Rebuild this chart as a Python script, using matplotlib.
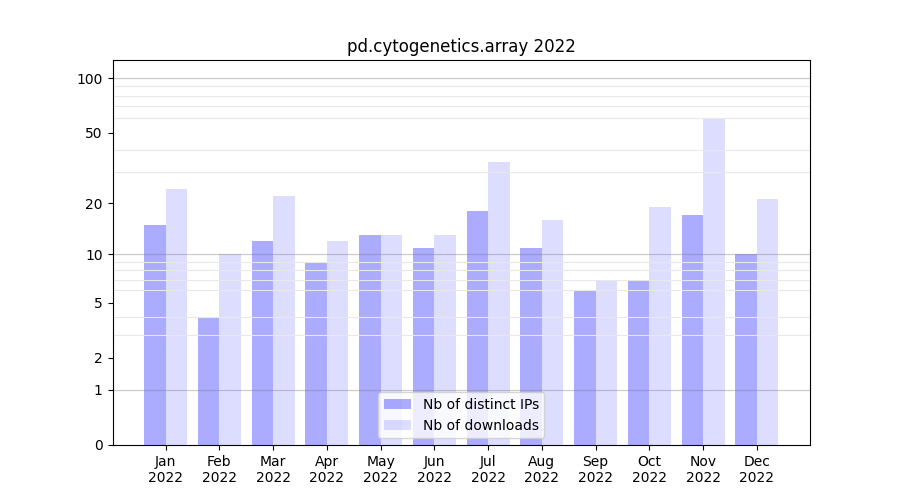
import numpy as np
import matplotlib
matplotlib.use('Agg')
import matplotlib.pyplot as plt
from matplotlib.ticker import FixedLocator

months = ['Jan', 'Feb', 'Mar', 'Apr', 'May', 'Jun', 'Jul', 'Aug', 'Sep', 'Oct', 'Nov', 'Dec']
year = '2022'
ips = [15, 4, 12, 9, 13, 11, 18, 11, 6, 7, 17, 10]
downloads = [24, 10, 22, 12, 13, 13, 34, 16, 7, 19, 60, 21]

x = np.arange(len(months))
w = 0.4

fig, ax = plt.subplots(figsize=(9, 5), dpi=100)
ax.bar(x - w / 2, ips, w, color='blue', alpha=0.33, label='Nb of distinct IPs')
ax.bar(x + w / 2, downloads, w, color='blue', alpha=0.133, label='Nb of downloads')

ax.set_yscale('function', functions=(lambda v: np.log10(1 + np.clip(v, 0, None)),
                                     lambda v: 10 ** v - 1))
ax.set_ylim(0, 126)
ax.set_yticks([0, 1, 2, 5, 10, 20, 50, 100])
ax.set_yticklabels(['0', '1', '2', '5', '10', '20', '50', '100'])
minor = list(range(2, 10)) + list(range(20, 100, 10))
ax.yaxis.set_minor_locator(FixedLocator(minor))
ax.tick_params(axis='y', which='minor', length=0)
ax.grid(axis='y', which='minor', color='#e8e8e8', linewidth=0.8)
for v in [1, 10, 100]:
    ax.axhline(v, color='gray', alpha=0.4, linewidth=0.9)

ax.set_xticks(x)
ax.set_xticklabels([m + '\n' + year for m in months])
ax.set_title('pd.cytogenetics.array 2022')
ax.legend(loc='lower center')

plt.savefig('out.png')
